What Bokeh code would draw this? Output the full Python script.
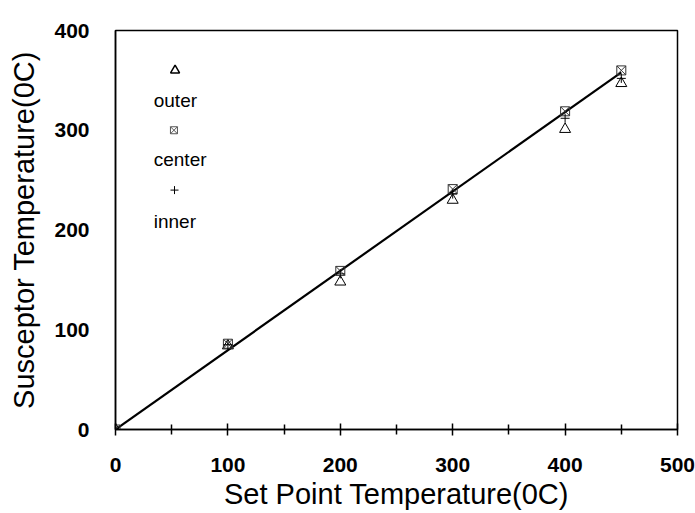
from bokeh.plotting import figure
from bokeh.models import Range1d, FixedTicker
from bokeh.core.properties import value
from bokeh.embed import file_html
from bokeh.resources import INLINE

# ---- data ----
set_point = [0, 100, 200, 300, 400, 450]
outer = [0, 84, 148, 230, 301, 347]
center = [0, 86, 159, 241, 319, 360]
inner = [0, 85, 156, 236, 312, 352]
fit_x = [0, 450]
fit_y = [0, 358]

x_ticks = [0, 100, 200, 300, 400, 500]
x_minor = [50, 150, 250, 350, 450]
y_ticks = [0, 100, 200, 300, 400]

legend_names = ["outer", "center", "inner"]

FONT = "Liberation Sans"

p = figure(width=695, height=513, output_backend="svg", toolbar_location=None,
           x_range=Range1d(0, 500), y_range=Range1d(0, 400),
           min_border_left=115, min_border_right=18, min_border_top=30,
           min_border_bottom=84)
p.grid.visible = False
p.background_fill_color = "white"
p.border_fill_color = "white"
p.outline_line_color = "black"
p.outline_line_width = 1.5

# fitted line
p.line(fit_x, fit_y, line_color="black", line_width=2.2)

# data markers
p.scatter(set_point, outer, marker="triangle", size=11, fill_color=None,
          line_color="black", line_width=1)
p.scatter(set_point, center, marker="square_x", size=9, fill_color=None,
          line_color="#333333", line_width=1)
p.scatter(set_point, inner, marker="cross", size=9, line_color="black", line_width=1)

# legend drawn as in the original: marker above its label
leg_mx = [53, 52, 52.5]
leg_my = [360, 300, 240]
leg_tx = [34, 34, 34]
leg_ty = [330, 271, 209]
p.scatter([leg_mx[0]], [leg_my[0]], marker="triangle", size=9, fill_color=None,
          line_color="black", line_width=1.5)
p.scatter([leg_mx[1]], [leg_my[1]], marker="square_x", size=7, fill_color=None,
          line_color="#555555", line_width=1)
p.scatter([leg_mx[2]], [leg_my[2]], marker="cross", size=8, line_color="black", line_width=1)
p.text(leg_tx, leg_ty, text=legend_names, text_font=value(FONT), text_font_size="19px",
       text_color="black", text_baseline="middle", text_align="left")

# axes
xa = p.xaxis[0]
xa.ticker = FixedTicker(ticks=x_ticks, minor_ticks=x_minor)
xa.axis_label = "Set Point Temperature(0C)"
xa.axis_label_text_font = FONT
xa.axis_label_text_font_size = "29px"
xa.axis_label_text_font_style = "normal"
xa.axis_label_text_color = "black"
xa.axis_label_standoff = 3
xa.major_label_text_font = FONT
xa.major_label_text_font_size = "21px"
xa.major_label_text_font_style = "bold"
xa.major_label_text_color = "black"
xa.major_label_standoff = 22
xa.axis_line_width = 1.5
xa.major_tick_in = 6
xa.major_tick_out = 6
xa.minor_tick_in = 5
xa.minor_tick_out = 5
xa.major_tick_line_width = 1.5
xa.minor_tick_line_width = 1.5

ya = p.yaxis[0]
ya.ticker = FixedTicker(ticks=y_ticks, minor_ticks=[])
ya.axis_label = "Susceptor Temperature(0C)"
ya.axis_label_text_font = FONT
ya.axis_label_text_font_size = "29px"
ya.axis_label_text_font_style = "normal"
ya.axis_label_text_color = "black"
ya.axis_label_standoff = 11
ya.major_label_text_font = FONT
ya.major_label_text_font_size = "21px"
ya.major_label_text_font_style = "bold"
ya.major_label_text_color = "black"
ya.major_label_standoff = 26
ya.axis_line_width = 1.5
ya.major_tick_in = 0
ya.major_tick_out = 0
ya.minor_tick_in = 0
ya.minor_tick_out = 0

open("out.html", "w").write(file_html(p, INLINE))
